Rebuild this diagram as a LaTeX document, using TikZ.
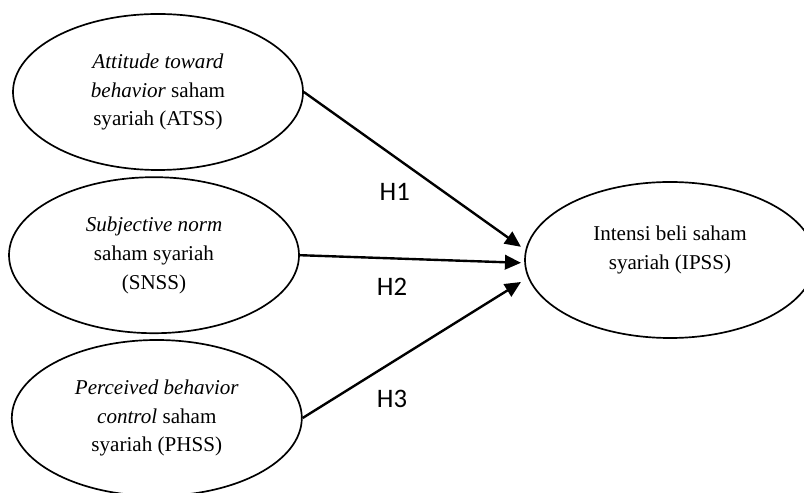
\documentclass[tikz,border=0pt]{standalone}
\usepackage{fontspec}
\setmainfont{Liberation Serif}
\newfontfamily\hypfont{Carlito}
\usetikzlibrary{shapes.geometric, arrows.meta}

\begin{document}
\begin{tikzpicture}[
    construct/.style={draw, ellipse, line width=1.2pt, minimum width=7.25cm, minimum height=3.9cm, align=center, font=\fontsize{15}{20.5}\selectfont},
    hyp/.style={font=\hypfont\fontsize{19}{23}\selectfont},
    every edge/.style={draw, line width=1.7pt, -{Triangle[length=0.4cm, width=0.36cm]}},
]
  \useasboundingbox (0,0) rectangle (20.1,12.3);
  \node[construct] (atss) at (3.95,10) {\textit{Attitude toward}\\\textit{behavior} saham\\syariah (ATSS)};
  \node[construct] (snss) at (3.85,5.92) {\textit{Subjective norm}\\saham syariah\\(SNSS)};
  \node[construct] (phss) at (3.92,1.85) {\textit{Perceived behavior}\\\textit{control} saham\\syariah (PHSS)};
  \node[construct] (ipss) at (16.75,5.8) {};
  \node[align=center, font=\fontsize{15}{20.5}\selectfont] (ipsstext) at ([yshift=0.25cm]ipss.center) {Intensi beli saham\\syariah (IPSS)};
  % arrow ends, just left of ipss
  \coordinate (t1) at ([shift={(-0.08,0.33)}]ipss.west);
  \coordinate (t2) at ([shift={(-0.08,-0.07)}]ipss.west);
  \coordinate (t3) at ([shift={(-0.08,-0.55)}]ipss.west);
  \path (atss.east) edge (t1);
  \path (snss.east) edge (t2);
  \path (phss.east) edge (t3);
  \node[hyp] (h1) at (9.87,7.5) {H1};
  \node[hyp] (h2) at (9.8,5.12) {H2};
  \node[hyp] (h3) at (9.8,2.33) {H3};
\end{tikzpicture}
\end{document}
